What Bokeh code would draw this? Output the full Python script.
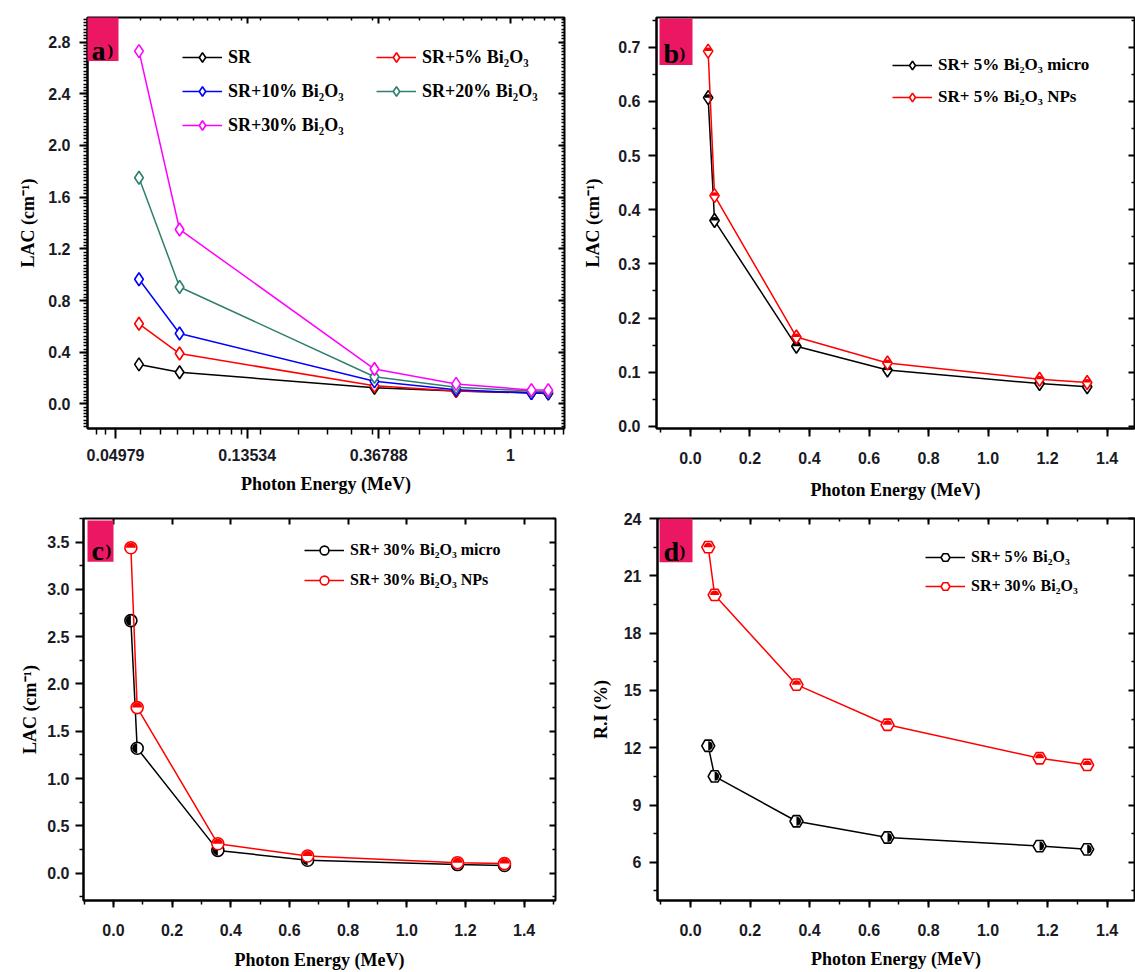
import math
import numpy as np
from bokeh.plotting import figure
from bokeh.layouts import column, row
from bokeh.models import (Range1d, FixedTicker, LinearAxis, LogAxis, Legend, LegendItem,
                          BoxAnnotation, Label, PrintfTickFormatter)
from bokeh.embed import file_html
from bokeh.resources import INLINE

# ---------------- data ----------------
ENERGY = [0.0595, 0.081, 0.356, 0.662, 1.173, 1.333]

A_LABELS = ["SR", "SR+5% Bi₂O₃", "SR+10% Bi₂O₃", "SR+20% Bi₂O₃", "SR+30% Bi₂O₃"]
A_SR = [0.306, 0.245, 0.125, 0.100, 0.085, 0.080]
A_SR5 = [0.62, 0.39, 0.14, 0.100, 0.090, 0.085]
A_SR10 = [0.965, 0.545, 0.175, 0.110, 0.084, 0.084]
A_SR20 = [1.75, 0.905, 0.21, 0.130, 0.100, 0.095]
A_SR30 = [2.73, 1.35, 0.27, 0.155, 0.107, 0.107]
A_XTICK_LABELS = ["0.04979", "0.13534", "0.36788", "1"]
A_YTICKS = [0.0, 0.4, 0.8, 1.2, 1.6, 2.0, 2.4, 2.8]

B_LABELS = ["SR+ 5% Bi₂O₃ micro", "SR+ 5% Bi₂O₃ NPs"]
B_MICRO = [0.607, 0.380, 0.148, 0.104, 0.079, 0.073]
B_NPS = [0.693, 0.426, 0.165, 0.117, 0.087, 0.081]
B_YTICKS = [0.0, 0.1, 0.2, 0.3, 0.4, 0.5, 0.6, 0.7]

C_LABELS = ["SR+ 30% Bi₂O₃ micro", "SR+ 30% Bi₂O₃ NPs"]
C_MICRO = [2.67, 1.32, 0.24, 0.135, 0.090, 0.080]
C_NPS = [3.44, 1.75, 0.31, 0.180, 0.110, 0.100]
C_YTICKS = [0.0, 0.5, 1.0, 1.5, 2.0, 2.5, 3.0, 3.5]

D_LABELS = ["SR+ 5% Bi₂O₃", "SR+ 30% Bi₂O₃"]
D_SR5 = [12.1, 10.5, 8.15, 7.3, 6.85, 6.68]
D_SR30 = [22.5, 20.0, 15.3, 13.2, 11.45, 11.1]
D_YTICKS = [6, 9, 12, 15, 18, 21, 24]

LIN_XTICKS = [0.0, 0.2, 0.4, 0.6, 0.8, 1.0, 1.2, 1.4]

# ---------------- style ----------------
SANS = "Liberation Sans"
SERIF = "Liberation Serif"
PINK = "#EC1763"
TICK_COLOR = "#1a1a24"
COL_A = ["#000000", "#FF0000", "#0000FF", "#2F7F6F", "#FF00FF"]

# frame geometry (page px): fx, fy, fw, fh ; figure outer box: ox, oy, ow, oh
GA = dict(fx=87, fy=12, fw=477, fh=416, ox=0, oy=0, ow=580, oh=505,
          xr=(0.04024, 1.508), yr=(-0.19, 2.99), log=True)
GB = dict(fx=656, fy=17, fw=478, fh=415, ox=580, oy=0, ow=555, oh=505,
          xr=(-0.114, 1.492), yr=(-0.004, 0.755), log=False)
GC = dict(fx=83, fy=518, fw=472, fh=389, ox=0, oy=505, ow=580, oh=467,
          xr=(-0.102, 1.507), yr=(-0.29, 3.75), log=False)
GD = dict(fx=657, fy=518, fw=477, fh=385, ox=580, oy=505, ow=555, oh=467,
          xr=(-0.111, 1.492), yr=(4.0, 24.0), log=False)


def px2x(g, px):
    x0, x1 = g["xr"]
    t = (px - g["fx"]) / g["fw"]
    if g["log"]:
        return math.exp(math.log(x0) + t * (math.log(x1) - math.log(x0)))
    return x0 + t * (x1 - x0)


def px2y(g, py):
    y0, y1 = g["yr"]
    return y1 - (py - g["fy"]) / g["fh"] * (y1 - y0)


def make_fig(g):
    p = figure(width=g["ow"], height=g["oh"],
               x_range=Range1d(*g["xr"]), y_range=Range1d(*g["yr"]),
               x_axis_type="log" if g["log"] else "linear",
               output_backend="svg", toolbar_location=None,
               min_border_left=g["fx"] - g["ox"],
               min_border_right=g["ox"] + g["ow"] - (g["fx"] + g["fw"]),
               min_border_top=g["fy"] - g["oy"],
               min_border_bottom=g["oy"] + g["oh"] - (g["fy"] + g["fh"]))
    p.grid.visible = False
    p.outline_line_color = "black"
    p.outline_line_width = 2
    p.background_fill_color = "white"
    p.border_fill_color = "white"
    return p


def style_axis(ax, label, major, minor, tick_out=8, minor_out=4, standoff=8,
               label_standoff=10, label_size="18px"):
    ax.ticker = FixedTicker(ticks=major, minor_ticks=minor)
    ax.axis_label = label
    ax.axis_label_text_font = SERIF
    ax.axis_label_text_font_style = "bold"
    ax.axis_label_text_font_size = label_size
    ax.axis_label_text_color = "black"
    ax.axis_label_standoff = label_standoff
    ax.major_label_text_font = SANS
    ax.major_label_text_font_style = "bold"
    ax.major_label_text_font_size = "16px"
    ax.major_label_text_color = TICK_COLOR
    ax.major_label_standoff = standoff
    ax.major_tick_out = tick_out
    ax.major_tick_in = 0
    ax.minor_tick_out = minor_out
    ax.minor_tick_in = 0
    ax.axis_line_width = 2
    ax.major_tick_line_width = 2
    ax.minor_tick_line_width = 1.5


def add_mirror(p, side, major, minor, log=False):
    cls = LogAxis if log else LinearAxis
    ax = cls(ticker=FixedTicker(ticks=major, minor_ticks=minor))
    ax.major_label_text_font_size = "1px"
    ax.major_label_text_color = None
    ax.major_label_text_alpha = 0
    ax.major_label_standoff = 0
    ax.major_tick_in = 6
    ax.major_tick_out = 0
    ax.minor_tick_in = 3
    ax.minor_tick_out = 0
    ax.axis_line_color = None
    ax.major_tick_line_width = 2
    ax.minor_tick_line_width = 1.5
    p.add_layout(ax, side)


def add_legend(p, items, x, y, size, item_h, spacing):
    leg = Legend(items=items, location=(x, y), orientation="vertical",
                 border_line_color=None, background_fill_alpha=0,
                 padding=0, margin=0, spacing=spacing,
                 glyph_width=40, glyph_height=item_h, label_height=item_h,
                 label_standoff=6, label_text_font=SERIF,
                 label_text_font_style="bold", label_text_font_size=size,
                 label_text_color="black")
    p.add_layout(leg)


def add_tag(p, g, letter, bx0, by0, bx1, by1, lx, ly, px_paren):
    p.add_layout(BoxAnnotation(left=px2x(g, bx0), right=px2x(g, bx1),
                               top=px2y(g, by0), bottom=px2y(g, by1),
                               fill_color=PINK, fill_alpha=1, line_color=None))
    p.add_layout(Label(x=px2x(g, lx), y=px2y(g, ly), text=letter, text_font=SERIF,
                       text_font_style="bold", text_font_size="28px",
                       text_baseline="alphabetic", text_color="black"))
    p.add_layout(Label(x=px2x(g, px_paren), y=px2y(g, ly), text=")", text_font=SERIF,
                       text_font_style="bold", text_font_size="17px",
                       text_baseline="alphabetic", text_color="black"))


lin_minor_x = list(np.round(np.arange(-0.1, 1.55, 0.1), 3))

# ---------------- panel a ----------------
pa = make_fig(GA)
a_xt = [float(s) for s in A_XTICK_LABELS]
a_xminor = [0.043, 0.046] + list(np.round(np.arange(0.06, 0.135, 0.01), 3)) + \
           [0.15, 0.2, 0.25, 0.3, 0.35] + [0.4, 0.5, 0.6, 0.7, 0.8, 0.9] + [1.1, 1.2, 1.3, 1.4, 1.5]
a_yminor = list(np.round(np.arange(-0.175, 3.0, 0.025), 4))
style_axis(pa.below[0], "Photon Energy (MeV)", a_xt, a_xminor, tick_out=10, minor_out=6,
           standoff=10, label_standoff=10)
pa.below[0].major_label_overrides = {v: s for v, s in zip(a_xt, A_XTICK_LABELS)}
style_axis(pa.left[0], "LAC (cm⁻¹)", A_YTICKS, a_yminor, standoff=9, label_standoff=7)
pa.left[0].formatter = PrintfTickFormatter(format="%.1f")
add_mirror(pa, "above", a_xt, a_xminor, log=True)
add_mirror(pa, "right", A_YTICKS, a_yminor)

a_items = []
for lab, ys, col in zip(A_LABELS, [A_SR, A_SR5, A_SR10, A_SR20, A_SR30], COL_A):
    l = pa.line(ENERGY, ys, line_color=col, line_width=1.5)
    s = pa.scatter(ENERGY, ys, marker="diamond", size=13, line_color=col, line_width=1.6,
                   fill_color="white")
    a_items.append(LegendItem(label=lab, renderers=[l, s]))
add_legend(pa, [a_items[0], a_items[2], a_items[4]], 95, 291, "18px", 24, 10)
add_legend(pa, [a_items[1], a_items[3]], 289, 325, "18px", 24, 10)
add_tag(pa, GA, "a", 86, 11, 118, 56, 91, 45, 107)

# ---------------- panel b ----------------
pb = make_fig(GB)
b_yminor = list(np.round(np.arange(0.05, 0.76, 0.1), 3))
style_axis(pb.below[0], "Photon Energy (MeV)", LIN_XTICKS, lin_minor_x, standoff=15, label_standoff=13)
pb.below[0].formatter = PrintfTickFormatter(format="%.1f")
style_axis(pb.left[0], "LAC (cm⁻¹)", B_YTICKS, b_yminor, standoff=8, label_standoff=12)
pb.left[0].formatter = PrintfTickFormatter(format="%.1f")
add_mirror(pb, "right", B_YTICKS, b_yminor)

b_items = []
for lab, ys, col in zip(B_LABELS, [B_MICRO, B_NPS], ["#000000", "#FF0000"]):
    l = pb.line(ENERGY, ys, line_color=col, line_width=1.5)
    s = pb.scatter(ENERGY, ys, marker="diamond", size=14, line_color=col, line_width=1.6,
                   fill_color="white")
    pb.wedge(ENERGY, ys, radius=3.5, radius_units="screen", start_angle=0, end_angle=math.pi,
             fill_color=col, line_color=None)
    b_items.append(LegendItem(label=lab, renderers=[l, s]))
add_legend(pb, b_items, 236, 320, "17px", 22, 10)
add_tag(pb, GB, "b", 659, 18, 692, 65, 663, 53, 679)

# ---------------- panel c ----------------
pc = make_fig(GC)
c_yminor = list(np.round(np.arange(-0.25, 3.8, 0.5), 3))
style_axis(pc.below[0], "Photon Energy (MeV)", LIN_XTICKS, lin_minor_x, tick_out=7, standoff=16,
           label_standoff=11)
pc.below[0].formatter = PrintfTickFormatter(format="%.1f")
style_axis(pc.left[0], "LAC (cm⁻¹)", C_YTICKS, c_yminor, standoff=6, label_standoff=4)
pc.left[0].formatter = PrintfTickFormatter(format="%.1f")
add_mirror(pc, "above", LIN_XTICKS, [])
add_mirror(pc, "right", C_YTICKS, c_yminor)

c_items = []
for lab, ys, col, a0 in zip(C_LABELS, [C_MICRO, C_NPS], ["#000000", "#FF0000"],
                            [math.pi / 2, 0.0]):
    l = pc.line(ENERGY, ys, line_color=col, line_width=1.5)
    s = pc.scatter(ENERGY, ys, marker="circle", size=12, line_color=col, line_width=1.6,
                   fill_color="white")
    pc.wedge(ENERGY, ys, radius=5, radius_units="screen", start_angle=a0,
             end_angle=a0 + math.pi, fill_color=col, line_color=None)
    c_items.append(LegendItem(label=lab, renderers=[l, s]))
add_legend(pc, c_items, 221, 309, "16px", 22, 8)
add_tag(pc, GC, "c", 87, 520, 113, 562, 91, 551, 105)

# ---------------- panel d ----------------
pd_ = make_fig(GD)
d_yminor = list(np.round(np.arange(4.5, 24, 3.0), 2))
style_axis(pd_.below[0], "Photon Energy (MeV)", LIN_XTICKS, lin_minor_x, tick_out=7, standoff=16,
           label_standoff=10)
pd_.below[0].formatter = PrintfTickFormatter(format="%.1f")
style_axis(pd_.left[0], "R.I (%)", D_YTICKS, d_yminor, standoff=8, label_standoff=10)
pd_.left[0].formatter = PrintfTickFormatter(format="%d")
add_mirror(pd_, "above", LIN_XTICKS, lin_minor_x)
add_mirror(pd_, "right", D_YTICKS, d_yminor)

d_items = []
for lab, ys, col, a0 in zip(D_LABELS, [D_SR5, D_SR30], ["#000000", "#FF0000"],
                            [-math.pi / 2, 0.0]):
    l = pd_.line(ENERGY, ys, line_color=col, line_width=1.5)
    s = pd_.scatter(ENERGY, ys, marker="hex", size=13, line_color=col, line_width=1.6,
                    fill_color="white")
    pd_.wedge(ENERGY, ys, radius=4.5, radius_units="screen", start_angle=a0,
              end_angle=a0 + math.pi, fill_color=col, line_color=None)
    d_items.append(LegendItem(label=lab, renderers=[l, s]))
add_legend(pd_, d_items, 268, 303, "16px", 22, 7)
add_tag(pd_, GD, "d", 659, 518, 692, 562, 663, 551, 679)

layout = column(row(pa, pb, spacing=0), row(pc, pd_, spacing=0), spacing=0)
open("out.html", "w").write(file_html(layout, INLINE))
